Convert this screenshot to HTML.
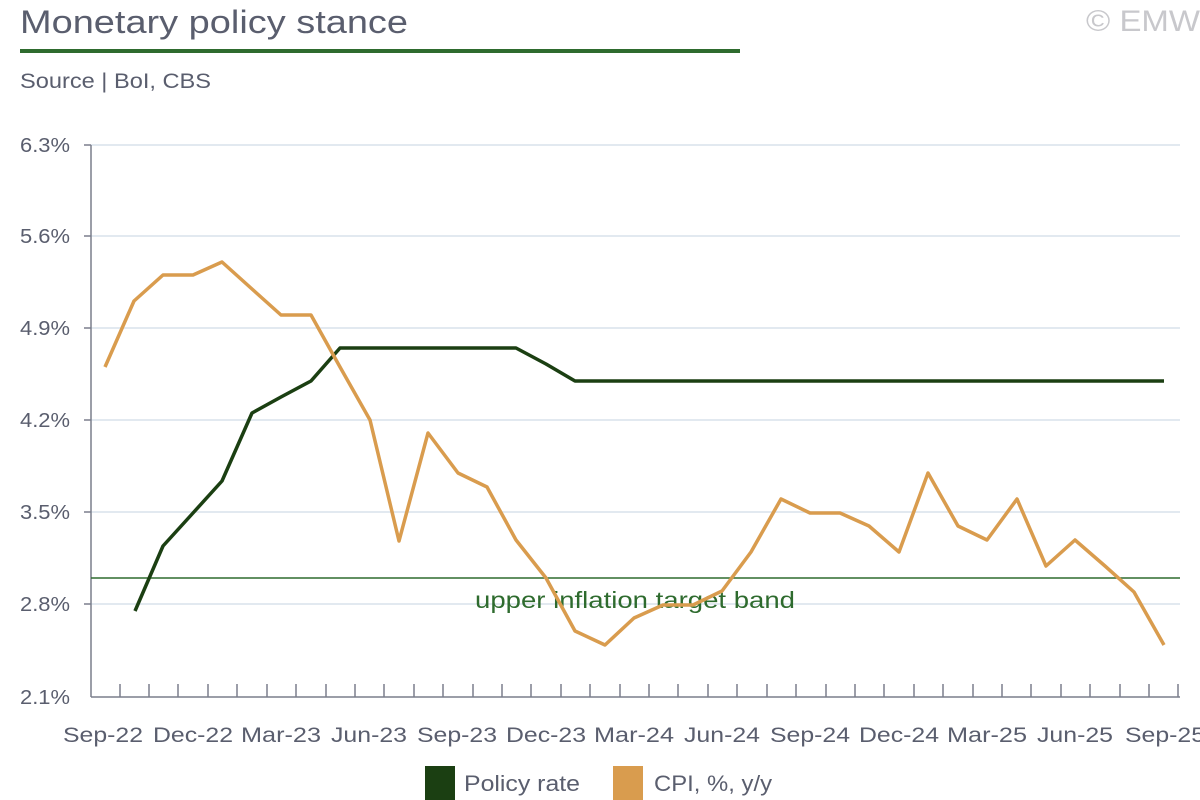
<!DOCTYPE html>
<html><head><meta charset="utf-8"><style>
body{margin:0;background:#fff;}
svg{display:block;font-family:"Liberation Sans",sans-serif;}
</style></head><body>
<svg width="1200" height="800" viewBox="0 0 1200 800">
<text x="20" y="33" font-size="32" fill="#5a5e6e" textLength="388" lengthAdjust="spacingAndGlyphs">Monetary policy stance</text>
<text x="1086" y="31" font-size="30" fill="#c8c8cc" textLength="114" lengthAdjust="spacingAndGlyphs">© EMW</text>
<rect x="20" y="49" width="720" height="4" fill="#2e6b2e"/>
<text x="20" y="88" font-size="21" fill="#5a5e6e" textLength="191" lengthAdjust="spacingAndGlyphs">Source | BoI, CBS</text>
<g stroke="#d8e2ec" stroke-width="1.5">
<line x1="91" y1="145" x2="1180" y2="145"/><line x1="91" y1="236" x2="1180" y2="236"/>
<line x1="91" y1="328" x2="1180" y2="328"/><line x1="91" y1="420" x2="1180" y2="420"/>
<line x1="91" y1="512" x2="1180" y2="512"/><line x1="91" y1="604" x2="1180" y2="604"/>
</g>
<g font-size="20" fill="#5a5e6e">
<text x="20" y="152" textLength="50" lengthAdjust="spacingAndGlyphs">6.3%</text><text x="20" y="243" textLength="50" lengthAdjust="spacingAndGlyphs">5.6%</text><text x="20" y="335" textLength="50" lengthAdjust="spacingAndGlyphs">4.9%</text>
<text x="20" y="427" textLength="50" lengthAdjust="spacingAndGlyphs">4.2%</text><text x="20" y="519" textLength="50" lengthAdjust="spacingAndGlyphs">3.5%</text><text x="20" y="611" textLength="50" lengthAdjust="spacingAndGlyphs">2.8%</text><text x="20" y="704" textLength="50" lengthAdjust="spacingAndGlyphs">2.1%</text>
</g>
<g stroke="#7a7e8c" stroke-width="1.5">
<line x1="91" y1="145" x2="91" y2="697"/><line x1="91" y1="697" x2="1180" y2="697"/>
<line x1="84" y1="145" x2="91" y2="145"/><line x1="84" y1="236" x2="91" y2="236"/><line x1="84" y1="328" x2="91" y2="328"/><line x1="84" y1="420" x2="91" y2="420"/><line x1="84" y1="512" x2="91" y2="512"/><line x1="84" y1="604" x2="91" y2="604"/>
</g>
<g font-size="21" fill="#5a5e6e">
<text x="63" y="742" textLength="80" lengthAdjust="spacingAndGlyphs">Sep-22</text><text x="153" y="742" textLength="80" lengthAdjust="spacingAndGlyphs">Dec-22</text><text x="241" y="742" textLength="80" lengthAdjust="spacingAndGlyphs">Mar-23</text><text x="331" y="742" textLength="76" lengthAdjust="spacingAndGlyphs">Jun-23</text><text x="417" y="742" textLength="80" lengthAdjust="spacingAndGlyphs">Sep-23</text><text x="506" y="742" textLength="80" lengthAdjust="spacingAndGlyphs">Dec-23</text><text x="594" y="742" textLength="80" lengthAdjust="spacingAndGlyphs">Mar-24</text><text x="684" y="742" textLength="76" lengthAdjust="spacingAndGlyphs">Jun-24</text><text x="770" y="742" textLength="80" lengthAdjust="spacingAndGlyphs">Sep-24</text><text x="859" y="742" textLength="80" lengthAdjust="spacingAndGlyphs">Dec-24</text><text x="947" y="742" textLength="80" lengthAdjust="spacingAndGlyphs">Mar-25</text><text x="1037" y="742" textLength="76" lengthAdjust="spacingAndGlyphs">Jun-25</text><text x="1125" y="742" textLength="80" lengthAdjust="spacingAndGlyphs">Sep-25</text>
</g>
<line x1="91" y1="578" x2="1180" y2="578" stroke="#2e6b2e" stroke-width="1.5"/>
<text x="475" y="608" font-size="23" fill="#2e6b2e" textLength="320" lengthAdjust="spacingAndGlyphs">upper inflation target band</text>
<polyline fill="none" stroke="#1b3f12" stroke-width="3.5" stroke-linejoin="round" points="135,611 163,546 193,513 222,481 252,413 281,397 311,381 340,348 516,348 546,364 575,381 1164,381"/>
<polyline fill="none" stroke="#d99c4e" stroke-width="3.5" stroke-linejoin="round" points="105,367 134,301 163,275 193,275 222,262 252,289 281,315 311,315 340,367 370,420 399,541 428,433 458,473 487,487 516,540 546,578 575,631 605,645 634,618 663,605 693,605 722,591 751,552 781,499 810,513 840,513 869,526 899,552 928,473 958,526 987,540 1017,499 1046,566 1075,540 1105,566 1134,592 1164,645"/>
<rect x="425" y="766" width="30" height="34" fill="#1b3f12"/>
<text x="464" y="791" font-size="22" fill="#5a5e6e" textLength="116" lengthAdjust="spacingAndGlyphs">Policy rate</text>
<rect x="613" y="766" width="30" height="34" fill="#d99c4e"/>
<text x="654" y="791" font-size="22" fill="#5a5e6e" textLength="118" lengthAdjust="spacingAndGlyphs">CPI, %, y/y</text>
<g stroke="#7a7e8c" stroke-width="1.5">
<line x1="120" y1="697" x2="120" y2="684"/><line x1="149" y1="697" x2="149" y2="684"/><line x1="178" y1="697" x2="178" y2="684"/><line x1="208" y1="697" x2="208" y2="684"/><line x1="237" y1="697" x2="237" y2="684"/><line x1="267" y1="697" x2="267" y2="684"/><line x1="296" y1="697" x2="296" y2="684"/><line x1="326" y1="697" x2="326" y2="684"/><line x1="355" y1="697" x2="355" y2="684"/><line x1="384" y1="697" x2="384" y2="684"/><line x1="414" y1="697" x2="414" y2="684"/><line x1="443" y1="697" x2="443" y2="684"/><line x1="473" y1="697" x2="473" y2="684"/><line x1="502" y1="697" x2="502" y2="684"/><line x1="531" y1="697" x2="531" y2="684"/><line x1="561" y1="697" x2="561" y2="684"/><line x1="590" y1="697" x2="590" y2="684"/><line x1="620" y1="697" x2="620" y2="684"/><line x1="649" y1="697" x2="649" y2="684"/><line x1="678" y1="697" x2="678" y2="684"/><line x1="708" y1="697" x2="708" y2="684"/><line x1="737" y1="697" x2="737" y2="684"/><line x1="767" y1="697" x2="767" y2="684"/><line x1="796" y1="697" x2="796" y2="684"/><line x1="826" y1="697" x2="826" y2="684"/><line x1="855" y1="697" x2="855" y2="684"/><line x1="884" y1="697" x2="884" y2="684"/><line x1="914" y1="697" x2="914" y2="684"/><line x1="943" y1="697" x2="943" y2="684"/><line x1="973" y1="697" x2="973" y2="684"/><line x1="1002" y1="697" x2="1002" y2="684"/><line x1="1031" y1="697" x2="1031" y2="684"/><line x1="1061" y1="697" x2="1061" y2="684"/><line x1="1090" y1="697" x2="1090" y2="684"/><line x1="1120" y1="697" x2="1120" y2="684"/><line x1="1149" y1="697" x2="1149" y2="684"/><line x1="1178" y1="697" x2="1178" y2="684"/>
</g>
</svg>
</body></html>
